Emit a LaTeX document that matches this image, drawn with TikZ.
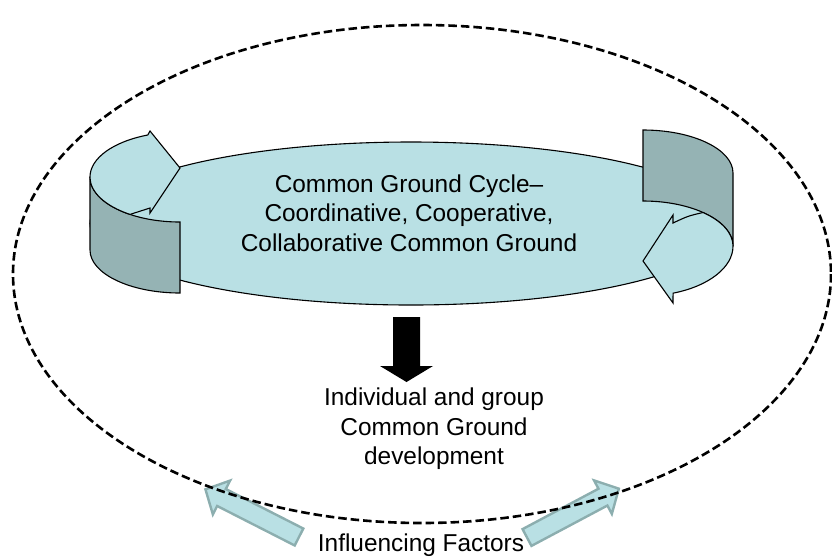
\documentclass[tikz,border=0pt]{standalone}
\usepackage{fontspec}
\setmainfont{Liberation Sans}
\definecolor{cyanfill}{RGB}{185,224,228}
\definecolor{wallfill}{RGB}{149,179,180}
\definecolor{arrowline}{RGB}{140,174,175}
\begin{document}
\begin{tikzpicture}[x=1pt,y=1pt,yscale=-1,
  lbl/.style={font=\fontsize{24.4}{29.5}\selectfont, align=center, text=black, inner sep=0pt},
  cyanpart/.style={fill=cyanfill, draw=black, line width=1.1pt, line join=miter},
  wallpart/.style={fill=wallfill, draw=black, line width=1.1pt},
  factorarrow/.style={fill=cyanfill, draw=arrowline, line width=2.4pt, line join=miter},
  outerring/.style={draw=black, dash pattern=on 8.5pt off 4pt, line width=2.6pt}]
\useasboundingbox (0,0) rectangle (832,558);
% main ring
\draw[cyanpart] (411,223.5) ellipse [x radius=321, y radius=81.5];
% left wall and arrow
\draw[wallpart] (90,177) arc[start angle=180, end angle=90, x radius=90, y radius=45]
  -- (180,293) arc[start angle=90, end angle=180, x radius=90, y radius=43] -- cycle;
\draw[cyanpart] (90,177) arc[start angle=180, end angle=249, x radius=90, y radius=45]
  -- (150,131) -- (180,168) -- (150,213) -- (150,208) -- (130,214.4)
  arc[start angle=123.7, end angle=180, x radius=90, y radius=45] -- cycle;
% right wall and arrow
\draw[wallpart] (643,130) arc[start angle=270, end angle=360, x radius=90, y radius=43]
  -- (733,246) arc[start angle=0, end angle=-90, x radius=90, y radius=45] -- cycle;
\draw[cyanpart] (703,212.5) arc[start angle=-48.2, end angle=0, x radius=90, y radius=45]
  arc[start angle=0, end angle=70.5, x radius=90, y radius=50]
  -- (673,303) -- (643,261) -- (673,215) -- (673,223)
  .. controls (688,216) .. (703,212.5) -- cycle;
% texts
\node[lbl] (cycle) at (409,213) {Common Ground Cycle–\\Coordinative, Cooperative,\\Collaborative Common Ground};
\node[lbl] (dev) at (434,429) {Individual and group\\Common Ground\\development};
\node[lbl] (factors) at (421,545) {Influencing Factors};
% black down arrow
\fill[black] (393,317) -- (420,317) -- (420,366) -- (433,366) -- (406.5,382) -- (380,366) -- (393,366) -- cycle;
% influencing factor arrows
\begin{scope}[shift={(299,537)}, rotate=207]
  \draw[factorarrow] (0,-9.5) -- (87,-9.5) -- (87,-19) -- (105,0) -- (87,19) -- (87,9.5) -- (0,9.5) -- cycle;
\end{scope}
\begin{scope}[shift={(527,537.5)}, rotate=-28]
  \draw[factorarrow] (0,-9.5) -- (86,-9.5) -- (86,-19) -- (104,0) -- (86,19) -- (86,9.5) -- (0,9.5) -- cycle;
\end{scope}
% dashed boundary
\draw[outerring] (422,274) ellipse [x radius=409, y radius=249];
\end{tikzpicture}
\end{document}
